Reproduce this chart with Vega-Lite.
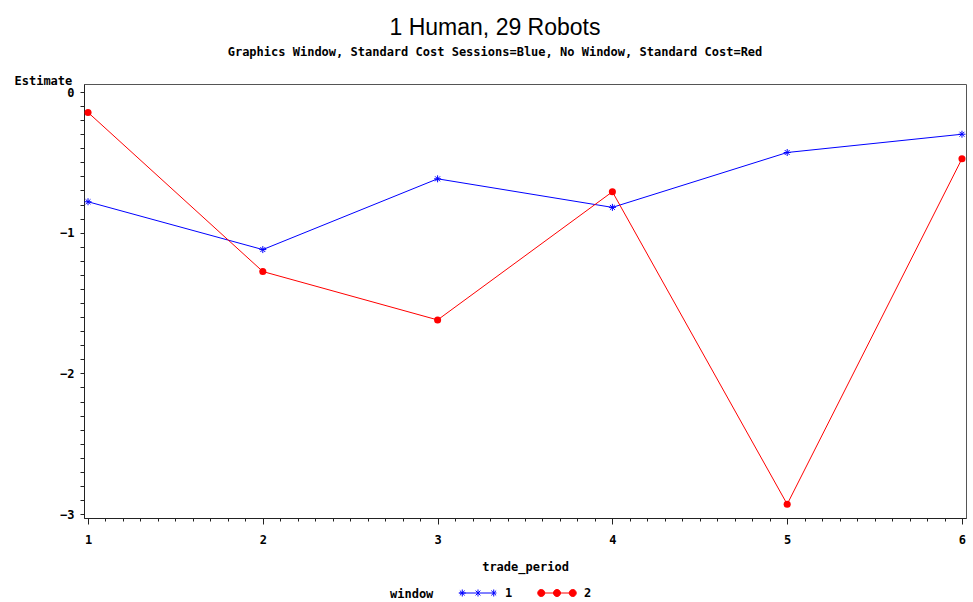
{
  "$schema": "https://vega.github.io/schema/vega-lite/v6.json",
  "width": 882,
  "height": 434,
  "autosize": {"type": "none"},
  "padding": {"left": 84, "top": 84, "right": 7, "bottom": 84},
  "background": "white",
  "title": {
    "text": "1 Human, 29 Robots",
    "subtitle": "Graphics Window, Standard Cost Sessions=Blue, No Window, Standard Cost=Red",
    "anchor": "middle",
    "frame": "group",
    "font": "Liberation Sans",
    "fontSize": 23,
    "fontWeight": "normal",
    "color": "black",
    "subtitleFont": "DejaVu Sans Mono",
    "subtitleFontSize": 12,
    "subtitleFontWeight": "bold",
    "subtitleColor": "black",
    "subtitlePadding": 7,
    "offset": 16,
    "dx": -30
  },
  "config": {
    "view": {"stroke": "#555", "strokeWidth": 1},
    "axis": {
      "grid": false,
      "domainColor": "#222",
      "tickColor": "#222",
      "labelFont": "DejaVu Sans Mono",
      "labelFontWeight": "bold",
      "labelFontSize": 12,
      "labelColor": "black",
      "titleFont": "DejaVu Sans Mono",
      "titleFontWeight": "bold",
      "titleFontSize": 12,
      "titleColor": "black",
      "labelOverlap": false,
      "labelBound": false,
      "labelFlush": false
    }
  },
  "data": {
    "values": [
      {"trade_period": 1, "Estimate": -0.78, "window": 1},
      {"trade_period": 2, "Estimate": -1.12, "window": 1},
      {"trade_period": 3, "Estimate": -0.617, "window": 1},
      {"trade_period": 4, "Estimate": -0.82, "window": 1},
      {"trade_period": 5, "Estimate": -0.43, "window": 1},
      {"trade_period": 6, "Estimate": -0.30, "window": 1},
      {"trade_period": 1, "Estimate": -0.145, "window": 2},
      {"trade_period": 2, "Estimate": -1.276, "window": 2},
      {"trade_period": 3, "Estimate": -1.62, "window": 2},
      {"trade_period": 4, "Estimate": -0.709, "window": 2},
      {"trade_period": 5, "Estimate": -2.93, "window": 2},
      {"trade_period": 6, "Estimate": -0.474, "window": 2}
    ]
  },
  "encoding": {
    "x": {
      "field": "trade_period",
      "type": "quantitative",
      "scale": {"domain": [0.977, 6.023], "nice": false, "zero": false},
      "axis": {
        "title": "trade_period",
        "values": [1,1.1,1.2,1.3,1.4,1.5,1.6,1.7,1.8,1.9,2,2.1,2.2,2.3,2.4,2.5,2.6,2.7,2.8,2.9,3,3.1,3.2,3.3,3.4,3.5,3.6,3.7,3.8,3.9,4,4.1,4.2,4.3,4.4,4.5,4.6,4.7,4.8,4.9,5,5.1,5.2,5.3,5.4,5.5,5.6,5.7,5.8,5.9,6],
        "labelExpr": "abs(datum.value - round(datum.value)) < 0.001 ? format(datum.value, 'd') : ''",
        "tickSize": {"condition": {"test": "abs(datum.value - round(datum.value)) < 0.001", "value": 6}, "value": 3},
        "labelPadding": 10,
        "titleY": 52,
        "titleBaseline": "alphabetic"
      }
    },
    "y": {
      "field": "Estimate",
      "type": "quantitative",
      "scale": {"domain": [-3.028, 0.057], "nice": false, "zero": false},
      "axis": {
        "title": "Estimate",
        "values": [0,-0.1,-0.2,-0.3,-0.4,-0.5,-0.6,-0.7,-0.8,-0.9,-1,-1.1,-1.2,-1.3,-1.4,-1.5,-1.6,-1.7,-1.8,-1.9,-2,-2.1,-2.2,-2.3,-2.4,-2.5,-2.6,-2.7,-2.8,-2.9,-3],
        "labelExpr": "abs(datum.value - round(datum.value)) < 0.001 ? format(datum.value, 'd') : ''",
        "tickSize": 4,
        "labelPadding": 6,
        "titleAngle": 0,
        "titleAlign": "left",
        "titleBaseline": "alphabetic",
        "titleX": -70,
        "titleY": 0
      }
    },
    "color": {
      "field": "window",
      "type": "nominal",
      "scale": {"domain": [1, 2], "range": ["#0000ff", "#ff0000"]},
      "legend": {
        "orient": "none",
        "direction": "horizontal",
        "legendX": 306,
        "legendY": 490,
        "title": "window",
        "titleOrient": "left",
        "titleAnchor": "middle",
        "titleBaseline": "middle",
        "titleFont": "DejaVu Sans Mono",
        "titleFontWeight": "bold",
        "titleFontSize": 12,
        "titleColor": "black",
        "titlePadding": 25,
        "labelFont": "DejaVu Sans Mono",
        "labelFontWeight": "bold",
        "labelFontSize": 12,
        "labelColor": "black",
        "labelOffset": 8,
        "columnPadding": 22,
        "symbolSize": 1369,
        "encode": {
          "title": {
            "update": {
              "dy": {"value": 7}
            }
          },
          "symbols": {
            "update": {
              "shape": {"signal": "datum.value == 1 ? 'M-1,0H1M-1.04,0H-0.66M-0.85,-0.19V0.19M-0.98,-0.13L-0.72,0.13M-0.98,0.13L-0.72,-0.13M0,-0.19V0.19M-0.13,-0.13L0.13,0.13M-0.13,0.13L0.13,-0.13M0.85,-0.19V0.19M0.72,-0.13L0.98,0.13M0.72,0.13L0.98,-0.13' : 'M-1,0H1M-0.66,0A0.19,0.19,0,1,1,-1.04,0A0.19,0.19,0,1,1,-0.66,0M0.19,0A0.19,0.19,0,1,1,-0.19,0A0.19,0.19,0,1,1,0.19,0M1.04,0A0.19,0.19,0,1,1,0.66,0A0.19,0.19,0,1,1,1.04,0'"},
              "fill": {"signal": "datum.value == 1 ? 'transparent' : '#ff0000'"},
              "stroke": {"signal": "datum.value == 1 ? '#0000ff' : '#ff0000'"},
              "strokeWidth": {"value": 1},
              "size": {"value": 1369},
              "opacity": {"value": 1}
            }
          }
        }
      }
    }
  },
  "layer": [
    {
      "mark": {"type": "line", "strokeWidth": 1}
    },
    {
      "transform": [{"filter": "datum.window == 1"}],
      "mark": {"type": "point", "shape": "M-1,0H1M0,-1V1M-0.7,-0.7L0.7,0.7M-0.7,0.7L0.7,-0.7", "size": 49, "filled": false, "strokeWidth": 1, "opacity": 1}
    },
    {
      "transform": [{"filter": "datum.window == 2"}],
      "mark": {"type": "point", "shape": "circle", "size": 50, "filled": true, "opacity": 1}
    }
  ]
}
